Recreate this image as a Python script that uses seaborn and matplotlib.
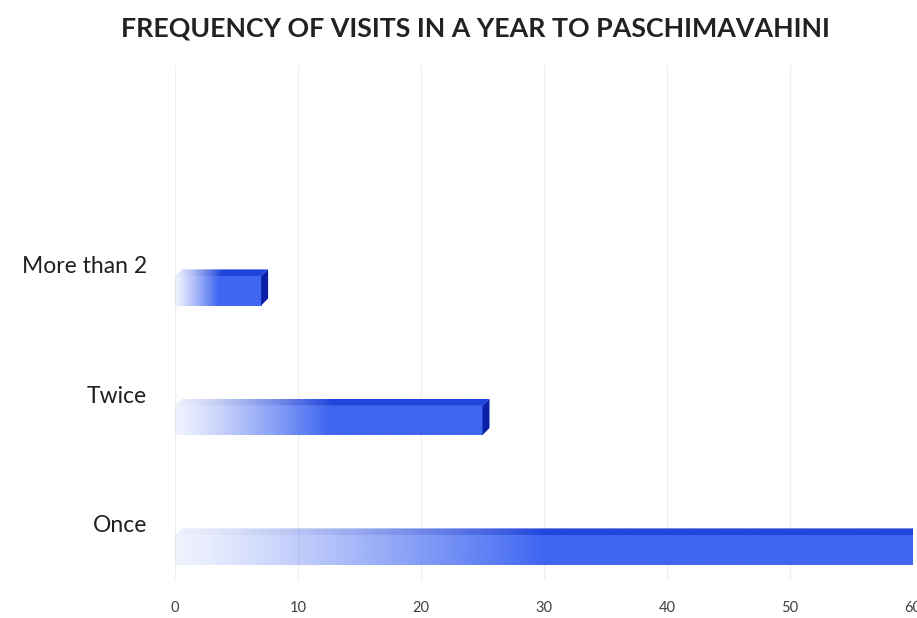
import numpy as np
import pandas as pd
import matplotlib
matplotlib.use("Agg")
import matplotlib.pyplot as plt
import matplotlib.transforms as mtransforms
from matplotlib.patches import Polygon
import seaborn as sns

# ---- data ----
categories = ["More than 2", "Twice", "Once"]
visits = [7, 25, 60]
x_ticks = [0, 10, 20, 30, 40, 50, 60]
title = "FREQUENCY OF VISITS IN A YEAR TO PASCHIMAVAHINI"

df = pd.DataFrame({"category": categories, "visits": visits})

sns.set_theme(style="white")
plt.rcParams["font.family"] = ["Lato", "DejaVu Sans"]

fig = plt.figure(figsize=(9.17, 6.18), dpi=100)
ax = fig.add_axes([175 / 917, 1 - 580 / 618, (913 - 175) / 917, (580 - 65) / 618])

front = "#3F66F2"
top_c = "#1F45DC"
side_c = "#0A20A6"
bar_h = 0.225

sns.barplot(data=df, y="category", x="visits", order=categories, orient="h",
            width=bar_h, color=front, ax=ax, zorder=3)

ax.set_xlim(0, 60)
ax.set_ylim(2.232, -1.745)
ax.set_xticks(x_ticks)
ax.set_xlabel("")
ax.set_ylabel("")
for s in ax.spines.values():
    s.set_visible(False)
ax.grid(axis="x", color="#F0F0F0", linewidth=1, zorder=0)
ax.grid(axis="y", visible=False)
ax.tick_params(axis="x", length=0, pad=15, labelsize=10.5, labelcolor="#404040")
ax.tick_params(axis="y", length=0, pad=20, labelsize=16.5, labelcolor="#202020")

# shift category labels upward (they sit above the bars)
offset = mtransforms.ScaledTranslation(0, 0.26, fig.dpi_scale_trans)
for lab in ax.get_yticklabels():
    lab.set_transform(lab.get_transform() + offset)

# 3D depth in data units derived from pixel offsets
fig.canvas.draw()
inv = ax.transData.inverted()
p0 = inv.transform((0, 0))
p1 = inv.transform((7, 7))
dx = p1[0] - p0[0]
dy = p1[1] - p0[1]  # negative in inverted axis -> upward


def gradient_image(color, n=256, frac=0.5):
    rgb = np.array(matplotlib.colors.to_rgb(color))
    t = np.linspace(0, 1, n)
    a = np.clip(t / frac, 0, 1) ** 1.2
    a = 0.08 + 0.92 * a
    img = np.zeros((1, n, 4))
    img[0, :, :3] = rgb
    img[0, :, 3] = a
    return img


for patch in list(ax.patches):
    x0 = patch.get_x()
    w = patch.get_width()
    y0 = patch.get_y()
    h = patch.get_height()
    ytop = min(y0, y0 + h)   # visually upper edge (inverted axis)
    ybot = max(y0, y0 + h)
    patch.set_facecolor("none")
    patch.set_edgecolor("none")
    # front face gradient
    im = ax.imshow(gradient_image(front), extent=(x0, x0 + w, ybot, ytop),
                   aspect="auto", zorder=3, interpolation="bilinear")
    im.set_clip_path(patch)
    # top face
    top_poly = Polygon([(x0, ytop), (x0 + w, ytop), (x0 + w + dx, ytop + dy), (x0 + dx, ytop + dy)],
                       closed=True, facecolor="none", edgecolor="none", zorder=3)
    ax.add_patch(top_poly)
    im2 = ax.imshow(gradient_image(top_c), extent=(x0, x0 + w + dx, ytop, ytop + dy),
                    aspect="auto", zorder=3, interpolation="bilinear")
    im2.set_clip_path(top_poly)
    # side face
    side_poly = Polygon([(x0 + w, ytop), (x0 + w + dx, ytop + dy), (x0 + w + dx, ybot + dy), (x0 + w, ybot)],
                        closed=True, facecolor=side_c, edgecolor="none", zorder=3)
    ax.add_patch(side_poly)

ax.set_xlim(0, 60)
ax.set_ylim(2.232, -1.745)

fig.text(475 / 917, 1 - 28 / 618, title, ha="center", va="center", fontsize=19.3,
         fontweight="bold", color="#222222")

fig.savefig("out.png", dpi=100)
